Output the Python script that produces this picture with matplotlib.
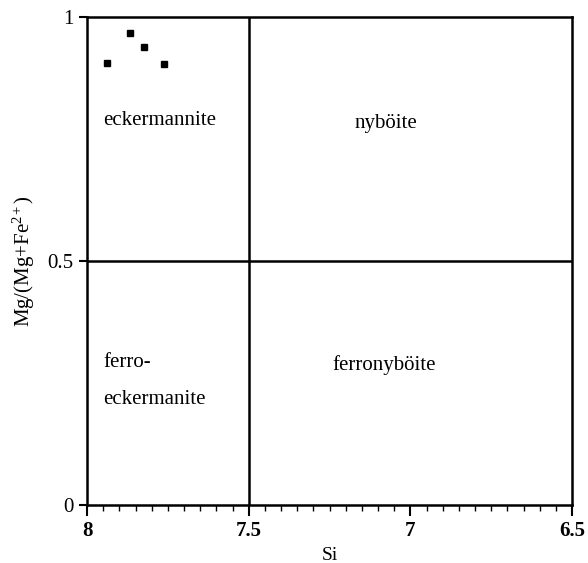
import numpy as np
import matplotlib.pyplot as plt
from matplotlib.ticker import MultipleLocator

plt.rcParams["font.family"] = ["Liberation Serif", "DejaVu Serif"]
plt.rcParams["mathtext.fontset"] = "custom"
plt.rcParams["mathtext.rm"] = "Liberation Serif"
plt.rcParams["mathtext.it"] = "Liberation Serif:italic"

# Si vs Mg/(Mg+Fe2+) measured points
si = [7.939, 7.867, 7.823, 7.761]
mg_ratio = [0.906, 0.967, 0.938, 0.904]

field_names = ["eckermannite", "nyböite", "ferro-\n\neckermanite", "ferronyböite"]
field_x = [7.777, 7.075, 7.95, 7.08]
field_y = [0.787, 0.781, 0.254, 0.287]
field_ha = ["center", "center", "left", "center"]

fig = plt.figure(figsize=(5.88, 5.63), dpi=100)
ax = fig.add_axes([0.148, 0.103, 0.825, 0.867])

ax.plot(si, mg_ratio, "s", color="black", markersize=5)

ax.axvline(7.5, color="black", lw=1.8)
ax.axhline(0.5, color="black", lw=1.8)

for name, x, y, ha in zip(field_names, field_x, field_y, field_ha):
    ax.text(x, y, name, ha=ha, va="center", fontsize=15, linespacing=0.95)

ax.set_xlim(8, 6.5)
ax.set_ylim(0, 1)
ax.set_xticks([8, 7.5, 7, 6.5])
ax.set_xticklabels(["8", "7.5", "7", "6.5"], fontweight="bold")
ax.xaxis.set_minor_locator(MultipleLocator(0.05))
ax.set_yticks([0, 0.5, 1])
ax.set_yticklabels(["0", "0.5", "1"], fontsize=15)
ax.tick_params(axis="x", which="major", direction="out", length=8, width=1.5, labelsize=15)
ax.tick_params(axis="x", which="minor", direction="out", length=4, width=1)
ax.tick_params(axis="y", direction="out", length=6, width=1.5)

for s in ax.spines.values():
    s.set_linewidth(1.8)

ax.set_xlabel("Si", fontsize=14, labelpad=4)
ax.set_ylabel("Mg/(Mg+Fe$^{2+}$)", fontsize=15, labelpad=8)

fig.savefig("out.png", dpi=100)
